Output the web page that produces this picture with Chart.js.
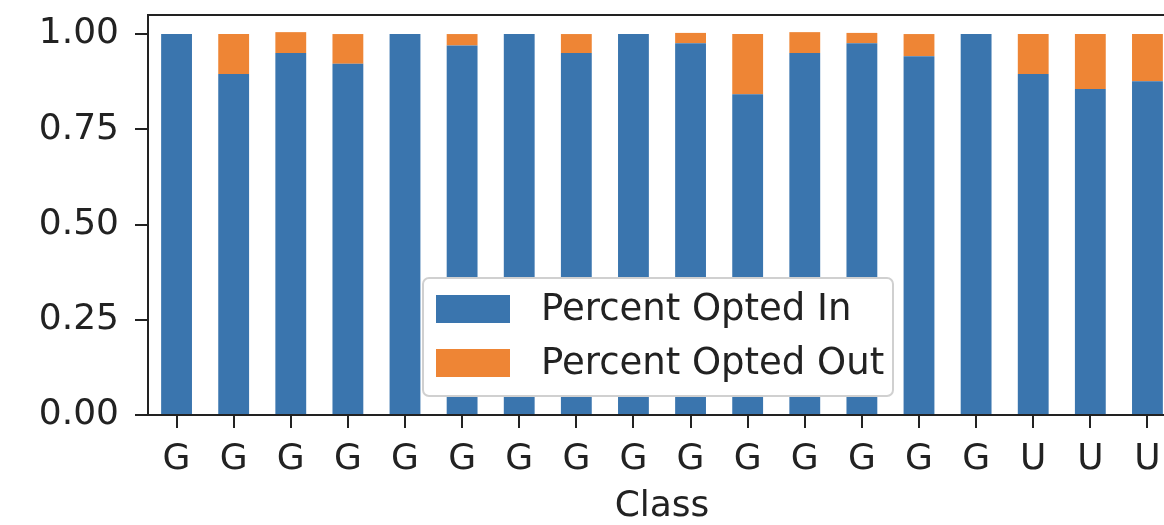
<!DOCTYPE html>
<html>
<head>
<meta charset="utf-8">
<script src="https://cdn.jsdelivr.net/npm/chart.js@4/dist/chart.umd.min.js"></script>
<style>
  html, body { margin: 0; padding: 0; background: #fff; overflow: hidden; }
  #wrap { width: 1164px; height: 525px; overflow: hidden; }
</style>
</head>
<body>
<div id="wrap"><canvas id="canvas" width="1180" height="525"></canvas></div>
<script>
// categories + series
const classes = ['G','G','G','G','G','G','G','G','G','G','G','G','G','G','G','U','U','U'];
const optedIn  = [1.0, 0.895, 0.95, 0.922, 1.0, 0.97, 1.0, 0.95, 1.0, 0.976, 0.842, 0.95, 0.976, 0.942, 1.0, 0.895, 0.856, 0.876];
const optedOut = [0, 0.105, 0.055, 0.078, 0, 0.03, 0, 0.05, 0, 0.027, 0.158, 0.055, 0.027, 0.058, 0, 0.105, 0.144, 0.124];
const yTicks = [0, 0.25, 0.5, 0.75, 1.0];

const ink = '#222';
const font = { family: 'DejaVu Sans', size: 36 };
const legendFont = { family: 'DejaVu Sans', size: 37 };

// axes frame (matplotlib style box)
const framePlugin = {
  id: 'frame',
  afterDraw(chart) {
    const a = chart.chartArea, c = chart.ctx;
    c.save();
    c.strokeStyle = ink;
    c.lineWidth = 2;
    c.strokeRect(a.left, a.top, a.right - a.left, a.bottom - a.top);
    c.restore();
  }
};

// legend drawn inside the plot, lower centre
const innerLegend = {
  id: 'innerLegend',
  afterDraw(chart) {
    const a = chart.chartArea, c = chart.ctx;
    const w = 470, h = 118;
    const x = (a.left + a.right) / 2 - w / 2 - 4;
    const y = a.bottom - 19 - h;
    c.save();
    c.fillStyle = '#fff';
    c.strokeStyle = '#d0d0d0';
    c.lineWidth = 2;
    c.beginPath();
    c.roundRect(x, y, w, h, 6);
    c.fill();
    c.stroke();
    c.font = legendFont.size + 'px ' + legendFont.family;
    c.textBaseline = 'middle';
    chart.data.datasets.forEach((ds, i) => {
      const cy = y + 31 + i * 54;
      c.fillStyle = ds.backgroundColor;
      c.fillRect(x + 13, cy - 14, 74, 28);
      c.fillStyle = ink;
      c.fillText(ds.label, x + 118, cy + 1);
    });
    c.restore();
  }
};

new Chart(document.getElementById('canvas').getContext('2d'), {
  type: 'bar',
  data: {
    labels: classes,
    datasets: [
      { label: 'Percent Opted In', data: optedIn, backgroundColor: '#3a75ae' },
      { label: 'Percent Opted Out', data: optedOut, backgroundColor: '#ee8535' }
    ]
  },
  options: {
    responsive: false,
    animation: false,
    layout: { padding: { top: 15, right: 4, left: 0, bottom: 0 } },
    datasets: { bar: { categoryPercentage: 1, barPercentage: 0.54 } },
    plugins: { legend: { display: false }, tooltip: { enabled: false } },
    scales: {
      x: {
        stacked: true,
        grid: { offset: false, drawOnChartArea: false, drawTicks: true, tickLength: 13, color: ink, lineWidth: 2 },
        border: { display: false },
        ticks: { color: ink, font: font, padding: 10, maxRotation: 0, autoSkip: false },
        title: { display: true, text: 'Class', color: ink, font: { ...font, lineHeight: 1.0 }, padding: { top: 0, bottom: 0 } },
        afterFit(s) { s.height = 110; s.paddingRight = 0; s.paddingLeft = 0; }
      },
      y: {
        stacked: true,
        min: 0,
        max: 1.05,
        grid: { drawOnChartArea: false, drawTicks: true, tickLength: 13, color: ink, lineWidth: 2 },
        border: { display: false },
        afterBuildTicks(s) { s.ticks = yTicks.map(v => ({ value: v })); },
        ticks: { color: ink, font: font, padding: 16, callback: v => Number(v).toFixed(2) },
        afterFit(s) { s.width = 148; s.paddingTop = 0; s.paddingBottom = 0; }
      }
    }
  },
  plugins: [framePlugin, innerLegend]
});
</script>
</body>
</html>
